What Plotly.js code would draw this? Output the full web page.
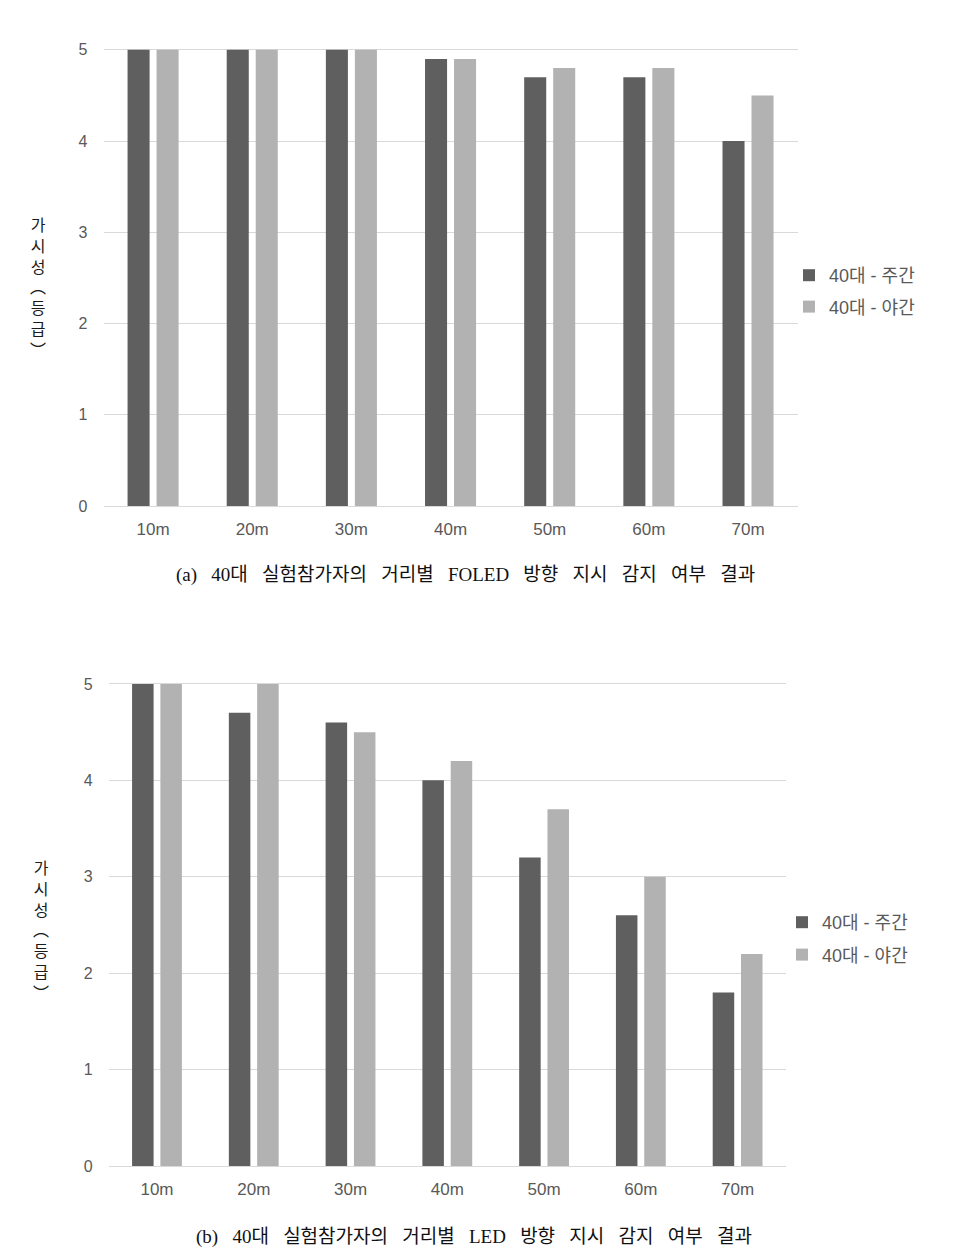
<!DOCTYPE html>
<html>
<head>
<meta charset="utf-8">
<script src="https://cdn.plot.ly/plotly-3.0.1.min.js"></script>
<style>html,body{margin:0;padding:0;background:#fff;}#chart{width:957px;height:1257px;}</style>
</head>
<body>
<div id="chart"></div>
<script>
const categories = ['10m', '20m', '30m', '40m', '50m', '60m', '70m'];
const seriesNames = ['40대 - 주간', '40대 - 야간'];
const foledDay = [5, 5, 5, 4.9, 4.7, 4.7, 4.0];
const foledNight = [5, 5, 5, 4.9, 4.8, 4.8, 4.5];
const ledDay = [5, 4.7, 4.6, 4.0, 3.2, 2.6, 1.8];
const ledNight = [5, 5, 4.5, 4.2, 3.7, 3.0, 2.2];
const yTicks = [0, 1, 2, 3, 4, 5];
const yTitleChars = ['가', '시', '성', '︵', '등', '급', '︶'];
const captionWordsA = ['(a)', '40대', '실험참가자의', '거리별', 'FOLED', '방향', '지시', '감지', '여부', '결과'];
const captionWordsB = ['(b)', '40대', '실험참가자의', '거리별', 'LED', '방향', '지시', '감지', '여부', '결과'];

const W = 957, H = 1257;
const px = v => v / W;
const py = v => 1 - v / H;
const darkC = '#5f5f5f', lightC = '#b2b2b2';
const font = 'Liberation Sans, Noto Sans CJK KR, sans-serif';
const tickColor = '#595959';
const sp = '\u00a0\u00a0\u00a0';

const traces = [
  {type: 'bar', x: categories, y: foledDay, name: seriesNames[0], marker: {color: darkC}, xaxis: 'x', yaxis: 'y', legend: 'legend', legendgroup: 'a1'},
  {type: 'bar', x: categories, y: foledNight, name: seriesNames[1], marker: {color: lightC}, xaxis: 'x', yaxis: 'y', legend: 'legend', legendgroup: 'a2'},
  {type: 'bar', x: categories, y: ledDay, name: seriesNames[0], marker: {color: darkC}, xaxis: 'x2', yaxis: 'y2', legend: 'legend2', legendgroup: 'b1'},
  {type: 'bar', x: categories, y: ledNight, name: seriesNames[1], marker: {color: lightC}, xaxis: 'x2', yaxis: 'y2', legend: 'legend2', legendgroup: 'b2'}
];

function yAxis(domain, anchor) {
  return {
    domain: domain, anchor: anchor, range: [0, 5.02], tickvals: yTicks,
    showgrid: true, gridcolor: '#d9d9d9', gridwidth: 1,
    zeroline: true, zerolinecolor: '#d9d9d9', zerolinewidth: 1,
    showline: false, ticks: '', ticklabelstandoff: 15,
    tickfont: {family: font, size: 16, color: tickColor}, fixedrange: true
  };
}
function xAxis(domain, anchor) {
  return {
    domain: domain, anchor: anchor, type: 'category',
    showgrid: false, zeroline: false, showline: false, ticks: '',
    ticklabelstandoff: 11,
    tickfont: {family: font, size: 17, color: tickColor}, fixedrange: true
  };
}

const yTitle = yTitleChars.join('<br>');
const titleFont = {family: 'Noto Sans CJK KR, sans-serif', size: 16, color: '#1a1a1a'};
const capFont = {family: 'Liberation Serif, Noto Sans CJK KR, serif', size: 19, color: '#111'};
const annotations = [
  {text: yTitle, xref: 'paper', yref: 'paper', x: px(38), y: py(286), showarrow: false,
    xanchor: 'center', yanchor: 'middle', font: titleFont},
  {text: yTitle, xref: 'paper', yref: 'paper', x: px(41), y: py(929), showarrow: false,
    xanchor: 'center', yanchor: 'middle', font: titleFont},
  {text: captionWordsA.join(sp), xref: 'paper', yref: 'paper', x: px(465), y: py(575),
    showarrow: false, xanchor: 'center', yanchor: 'middle', font: capFont},
  {text: captionWordsB.join(sp), xref: 'paper', yref: 'paper', x: px(474), y: py(1237),
    showarrow: false, xanchor: 'center', yanchor: 'middle', font: capFont}
];

const legendFont = {family: font, size: 18, color: tickColor};
const layout = {
  width: W, height: H,
  margin: {l: 0, r: 0, t: 0, b: 0},
  paper_bgcolor: '#fff', plot_bgcolor: '#fff',
  barmode: 'group', bargap: 0.415, bargroupgap: 0.24,
  font: {family: font, color: tickColor},
  xaxis: xAxis([px(103.5), px(797.6)], 'y'),
  yaxis: yAxis([py(506), py(48)], 'x'),
  xaxis2: xAxis([px(108.6), px(786)], 'y2'),
  yaxis2: yAxis([py(1166), py(682)], 'x2'),
  legend: {x: px(789), y: py(257), xanchor: 'left', yanchor: 'top',
    font: legendFont, tracegroupgap: 5, itemwidth: 30, bgcolor: 'rgba(0,0,0,0)'},
  legend2: {x: px(782), y: py(904), xanchor: 'left', yanchor: 'top',
    font: legendFont, tracegroupgap: 6, itemwidth: 30, bgcolor: 'rgba(0,0,0,0)'},
  annotations: annotations,
  showlegend: true
};

Plotly.newPlot('chart', traces, layout, {displayModeBar: false, staticPlot: true});
</script>
</body>
</html>
